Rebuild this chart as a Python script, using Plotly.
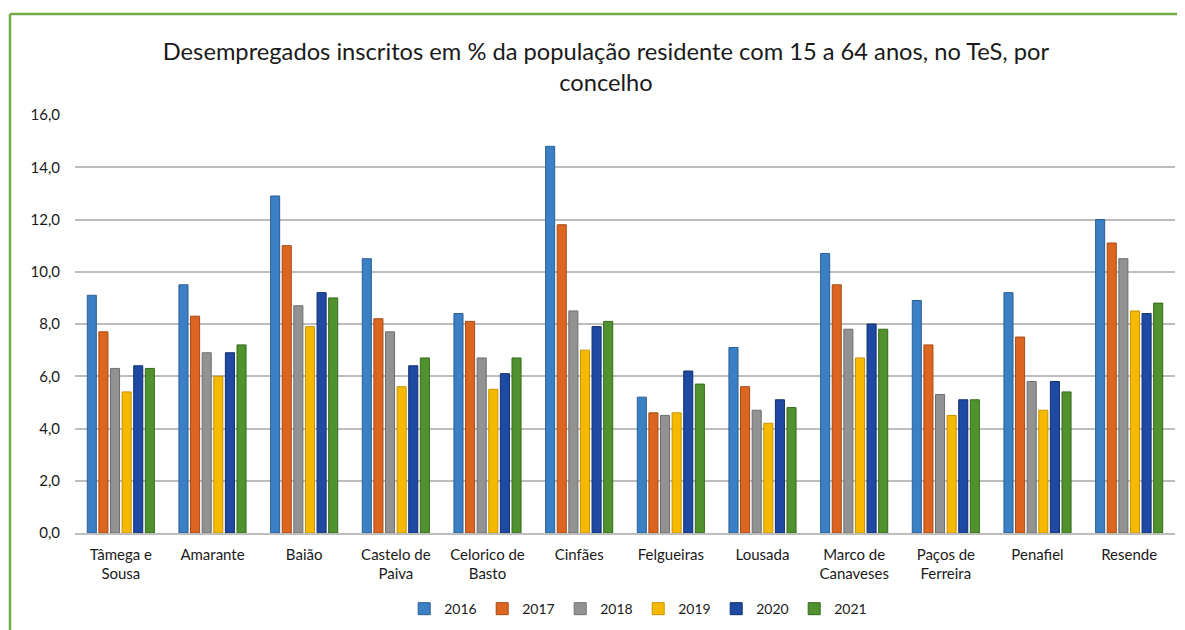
import plotly.graph_objects as go

categories = ["Tâmega e<br>Sousa", "Amarante", "Baião", "Castelo de<br>Paiva", "Celorico de<br>Basto",
              "Cinfães", "Felgueiras", "Lousada", "Marco de<br>Canaveses", "Paços de<br>Ferreira",
              "Penafiel", "Resende"]
years = ["2016", "2017", "2018", "2019", "2020", "2021"]
v2016 = [9.1, 9.5, 12.9, 10.5, 8.4, 14.8, 5.2, 7.1, 10.7, 8.9, 9.2, 12.0]
v2017 = [7.7, 8.3, 11.0, 8.2, 8.1, 11.8, 4.6, 5.6, 9.5, 7.2, 7.5, 11.1]
v2018 = [6.3, 6.9, 8.7, 7.7, 6.7, 8.5, 4.5, 4.7, 7.8, 5.3, 5.8, 10.5]
v2019 = [5.4, 6.0, 7.9, 5.6, 5.5, 7.0, 4.6, 4.2, 6.7, 4.5, 4.7, 8.5]
v2020 = [6.4, 6.9, 9.2, 6.4, 6.1, 7.9, 6.2, 5.1, 8.0, 5.1, 5.8, 8.4]
v2021 = [6.3, 7.2, 9.0, 6.7, 6.7, 8.1, 5.7, 4.8, 7.8, 5.1, 5.4, 8.8]
series = [v2016, v2017, v2018, v2019, v2020, v2021]
colors = ["#3b7fc4", "#dc6520", "#929292", "#f6b900", "#1f4aa3", "#4f922e"]
edges = ["#2a5f96", "#a84a15", "#6e6e6e", "#c79400", "#102e6e", "#356a1d"]
yticks = [0, 2, 4, 6, 8, 10, 12, 14, 16]

fig = go.Figure()
for name, vals, c, e in zip(years, series, colors, edges):
    fig.add_trace(go.Bar(x=categories, y=vals, name=name, marker=dict(color=c, line=dict(color=e, width=1))))

font = "Lato, 'Open Sans', sans-serif"
# page body has an 8px margin, so offsets are compensated in the margins
fig.update_layout(
    width=1185, height=630,
    margin=dict(l=67, r=18, t=107, b=105),
    paper_bgcolor="white", plot_bgcolor="white",
    separators=",.",
    barmode="group", bargap=0.24, bargroupgap=0.22,
    title=dict(text="Desempregados inscritos em % da população residente com 15 a 64 anos, no TeS, por<br>concelho",
               x=0.5046, xanchor="center", y=0.9175, yanchor="middle",
               font=dict(family=font, size=23.7, color="#1a1a1a")),
    font=dict(family=font, size=14, color="#1a1a1a"),
    legend=dict(orientation="h", x=0.512, xanchor="center", y=-0.182, yanchor="middle",
                font=dict(size=14), entrywidth=33, entrywidthmode="pixels", itemwidth=30,
                traceorder="normal"),
    yaxis=dict(range=[0, 16], tickvals=yticks, tickformat=".1f", showgrid=True,
               gridcolor="#bdbdbd", gridwidth=1.5, zeroline=False, showline=False,
               ticks="", ticklabelstandoff=14, tickfont=dict(size=15)),
    xaxis=dict(showline=True, linecolor="#bdbdbd", linewidth=1.5, ticks="",
               ticklabelstandoff=7, tickfont=dict(size=15)),
    shapes=[
        dict(type="line", xref="paper", yref="paper", x0=-0.0591, x1=1.2, y0=1.2416, y1=1.2416,
             line=dict(color="#70ad47", width=2.5)),
        dict(type="line", xref="paper", yref="paper", x0=-0.0591, x1=-0.0591, y0=1.2416, y1=-0.5,
             line=dict(color="#70ad47", width=2.5)),
    ],
)
fig.write_html("out.html")
